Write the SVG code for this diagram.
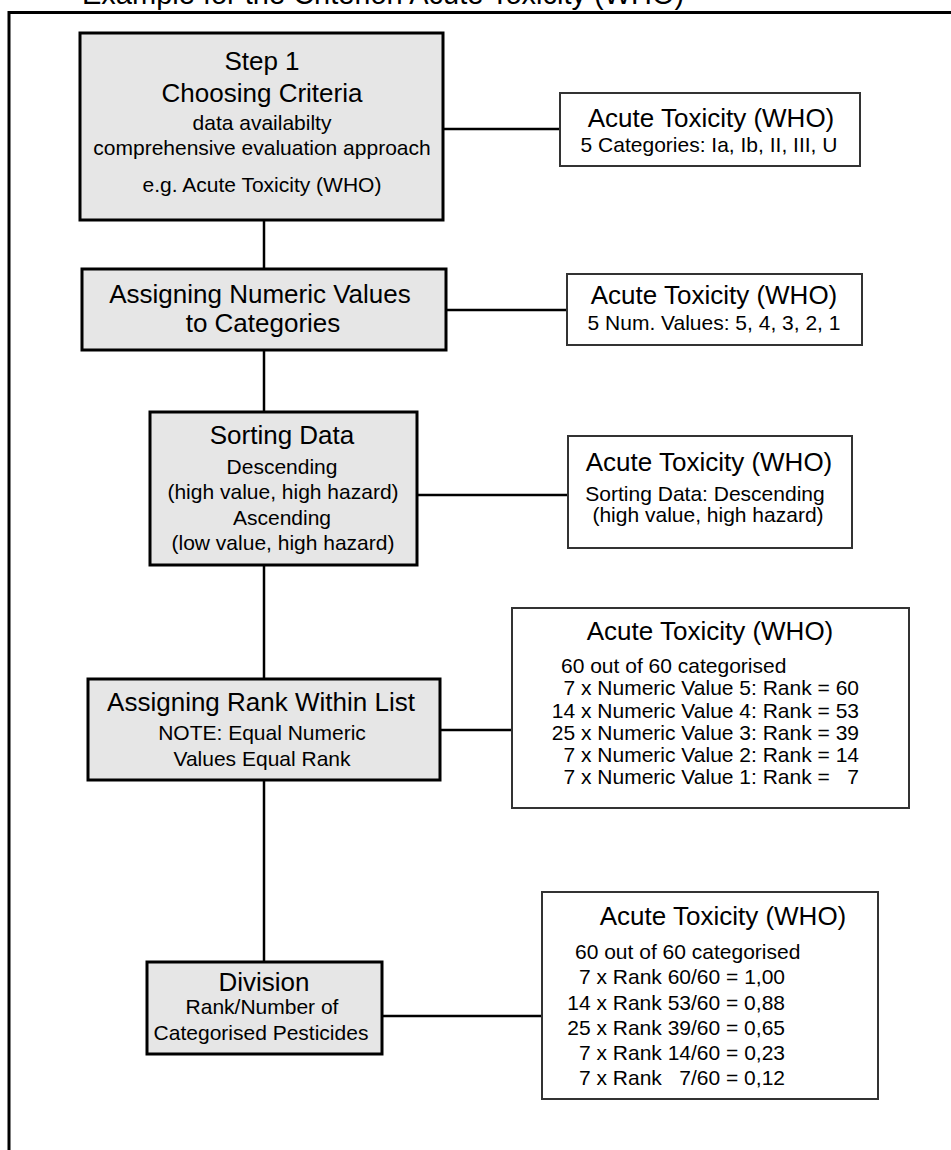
<svg xmlns="http://www.w3.org/2000/svg" width="951" height="1150" viewBox="0 0 951 1150">
<style>
text{font-family:"Liberation Sans",Arial,sans-serif;fill:#000}
.h{font-size:26px}
.s{font-size:21px}
.m{text-anchor:middle}
.e{text-anchor:end}
.step{fill:#e6e6e6;stroke:#000;stroke-width:3}
.info{fill:#fff;stroke:#333;stroke-width:2}
.c{stroke:#000;stroke-width:2.5;fill:none}
</style>
<rect width="951" height="1150" fill="#fff"/>
<text x="82" y="4" style="font-size:29px">Example for the Criterion Acute Toxicity (WHO)</text>
<path d="M9,1152 V12.5 H953" fill="none" stroke="#000" stroke-width="3"/>
<g id="connectors">
<line class="c" x1="264" y1="220" x2="264" y2="269"/>
<line class="c" x1="264" y1="350" x2="264" y2="412"/>
<line class="c" x1="264" y1="565" x2="264" y2="679"/>
<line class="c" x1="264" y1="780" x2="264" y2="962"/>
<line class="c" x1="443" y1="129" x2="560" y2="129"/>
<line class="c" x1="446" y1="310" x2="567" y2="310"/>
<line class="c" x1="417" y1="495" x2="568" y2="495"/>
<line class="c" x1="440" y1="730" x2="512" y2="730"/>
<line class="c" x1="382" y1="1016" x2="542" y2="1016"/>
</g>
<g id="step1">
<rect class="step" x="80" y="33" width="363" height="187"/>
<text class="h m" x="262" y="70">Step 1</text>
<text class="h m" x="262" y="102">Choosing Criteria</text>
<text class="s m" x="262" y="130">data availabilty</text>
<text class="s m" x="262" y="155">comprehensive evaluation approach</text>
<text class="s m" x="262" y="192">e.g. Acute Toxicity (WHO)</text>
</g>
<g id="info1">
<rect class="info" x="560" y="93" width="300" height="73"/>
<text class="h m" x="711" y="127">Acute Toxicity (WHO)</text>
<text class="s m" x="709" y="152">5 Categories: Ia, Ib, II, III, U</text>
</g>
<g id="step2">
<rect class="step" x="82" y="269" width="364" height="81"/>
<text class="h m" x="260" y="303">Assigning Numeric Values</text>
<text class="h m" x="263" y="332">to Categories</text>
</g>
<g id="info2">
<rect class="info" x="567" y="274" width="295" height="71"/>
<text class="h m" x="714" y="304">Acute Toxicity (WHO)</text>
<text class="s m" x="714" y="330">5 Num. Values: 5, 4, 3, 2, 1</text>
</g>
<g id="step3">
<rect class="step" x="150" y="412" width="267" height="153"/>
<text class="h m" x="282" y="444">Sorting Data</text>
<text class="s m" x="282" y="474">Descending</text>
<text class="s m" x="283" y="499">(high value, high hazard)</text>
<text class="s m" x="282" y="525">Ascending</text>
<text class="s m" x="283" y="550">(low value, high hazard)</text>
</g>
<g id="info3">
<rect class="info" x="568" y="436" width="284" height="112"/>
<text class="h m" x="709" y="471">Acute Toxicity (WHO)</text>
<text class="s m" x="705" y="501">Sorting Data: Descending</text>
<text class="s m" x="708" y="522">(high value, high hazard)</text>
</g>
<g id="step4">
<rect class="step" x="88" y="679" width="352" height="101"/>
<text class="h m" x="261" y="711">Assigning Rank Within List</text>
<text class="s m" x="262" y="740">NOTE: Equal Numeric</text>
<text class="s m" x="262" y="766">Values Equal Rank</text>
</g>
<g id="info4">
<rect class="info" x="512" y="608" width="397" height="200"/>
<text class="h m" x="710" y="640">Acute Toxicity (WHO)</text>
<text class="s" x="561" y="673">60 out of 60 categorised</text>
<text class="s e" x="859" y="695">7 x Numeric Value 5: Rank = 60</text>
<text class="s e" x="859" y="718">14 x Numeric Value 4: Rank = 53</text>
<text class="s e" x="859" y="740">25 x Numeric Value 3: Rank = 39</text>
<text class="s e" x="859" y="762">7 x Numeric Value 2: Rank = 14</text>
<text class="s e" x="859" y="784" xml:space="preserve">7 x Numeric Value 1: Rank =   7</text>
</g>
<g id="step5">
<rect class="step" x="147" y="962" width="235" height="92"/>
<text class="h m" x="264" y="991">Division</text>
<text class="s m" x="262" y="1014">Rank/Number of</text>
<text class="s m" x="261" y="1040">Categorised Pesticides</text>
</g>
<g id="info5">
<rect class="info" x="542" y="892" width="336" height="207"/>
<text class="h m" x="723" y="925">Acute Toxicity (WHO)</text>
<text class="s" x="575" y="959">60 out of 60 categorised</text>
<text class="s e" x="785" y="984">7 x Rank 60/60 = 1,00</text>
<text class="s e" x="785" y="1010">14 x Rank 53/60 = 0,88</text>
<text class="s e" x="785" y="1035">25 x Rank 39/60 = 0,65</text>
<text class="s e" x="785" y="1060">7 x Rank 14/60 = 0,23</text>
<text class="s e" x="785" y="1085" xml:space="preserve">7 x Rank   7/60 = 0,12</text>
</g>
</svg>
